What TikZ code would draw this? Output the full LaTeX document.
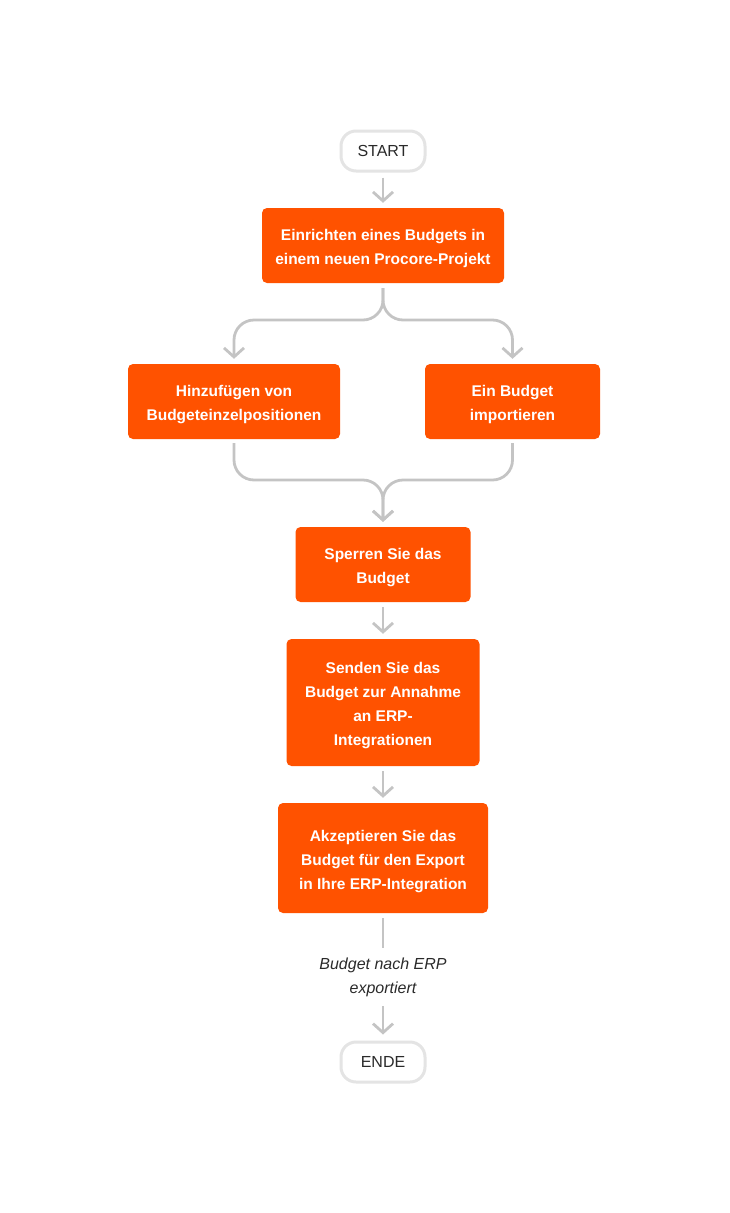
\documentclass[tikz,border=0pt]{standalone}
\usepackage{fontspec}
\setmainfont{Liberation Sans}
\usetikzlibrary{arrows.meta}
\definecolor{proc}{HTML}{FF5200}
\definecolor{conn}{HTML}{C4C4C4}
\definecolor{termborder}{HTML}{E4E4E4}
\definecolor{txt}{HTML}{2A2A2A}
\newcommand\toppad{\rule{0pt}{18pt}}
\tikzset{
  procbox/.style={fill=proc, rounded corners=5pt, text=white, align=center,
    font=\fontsize{15.5}{24}\selectfont\bfseries, inner sep=0pt},
  termbox/.style={draw=termborder, line width=3pt, fill=white, rounded corners=15pt,
    minimum width=84pt, minimum height=40pt, text=txt, font=\fontsize{16}{18}\selectfont},
  conn/.style={draw=conn, line width=2.8pt, rounded corners=20pt},
  arr/.style={conn, -{Straight Barb[length=9pt,width=20pt]}},
  lbl/.style={text=txt, align=center, font=\fontsize{16}{24}\selectfont\itshape}
}
\begin{document}
\begin{tikzpicture}[x=1pt,y=-1pt]
\useasboundingbox (0,0) rectangle (729,1213);
\node[termbox] (start) at (383,151) {START};
\node[procbox, minimum width=242pt, minimum height=75pt] (b1) at (383,245.5) {\toppad Einrichten eines Budgets in\\einem neuen Procore-Projekt};
\node[procbox, minimum width=212pt, minimum height=75pt] (b2) at (234,401.5) {\toppad Hinzufügen von\\Budgeteinzelpositionen};
\node[procbox, minimum width=175pt, minimum height=75pt] (b3) at (512.5,401.5) {\toppad Ein Budget\\importieren};
\node[procbox, minimum width=175pt, minimum height=75pt] (b4) at (383,564.5) {\toppad Sperren Sie das\\Budget};
\node[procbox, minimum width=193pt, minimum height=127pt] (b5) at (383,702.5) {\toppad Senden Sie das\\Budget zur Annahme\\an ERP-\\Integrationen};
\node[procbox, minimum width=210pt, minimum height=110pt] (b6) at (383,858) {\toppad Akzeptieren Sie das\\Budget für den Export\\in Ihre ERP-Integration};
\node[lbl] (l1) at (383,977) {Budget nach ERP\\exportiert};
\node[termbox] (ende) at (383,1062) {ENDE};

\draw[arr] ([yshift=-5pt]start.south) -- ([yshift=5pt]b1.north);
\draw[arr] ([yshift=-5pt]b1.south) -- (383,320) -- (234,320) -- ([yshift=5pt]b2.north);
\draw[arr] ([yshift=-5pt]b1.south) -- (383,320) -- (512.5,320) -- ([yshift=5pt]b3.north);
\draw[arr] ([yshift=-4pt]b2.south) -- (234,480) -- (383,480) -- ([yshift=5pt]b4.north);
\draw[arr] ([yshift=-4pt]b3.south) -- (512.5,480) -- (383,480) -- ([yshift=5pt]b4.north);
\draw[arr] ([yshift=-5pt]b4.south) -- ([yshift=5pt]b5.north);
\draw[arr] ([yshift=-5pt]b5.south) -- ([yshift=5pt]b6.north);
\draw[conn] ([yshift=-5pt]b6.south) -- ([yshift=6pt]l1.north);
\draw[arr] ([yshift=-6pt]l1.south) -- ([yshift=6pt]ende.north);
\end{tikzpicture}
\end{document}
